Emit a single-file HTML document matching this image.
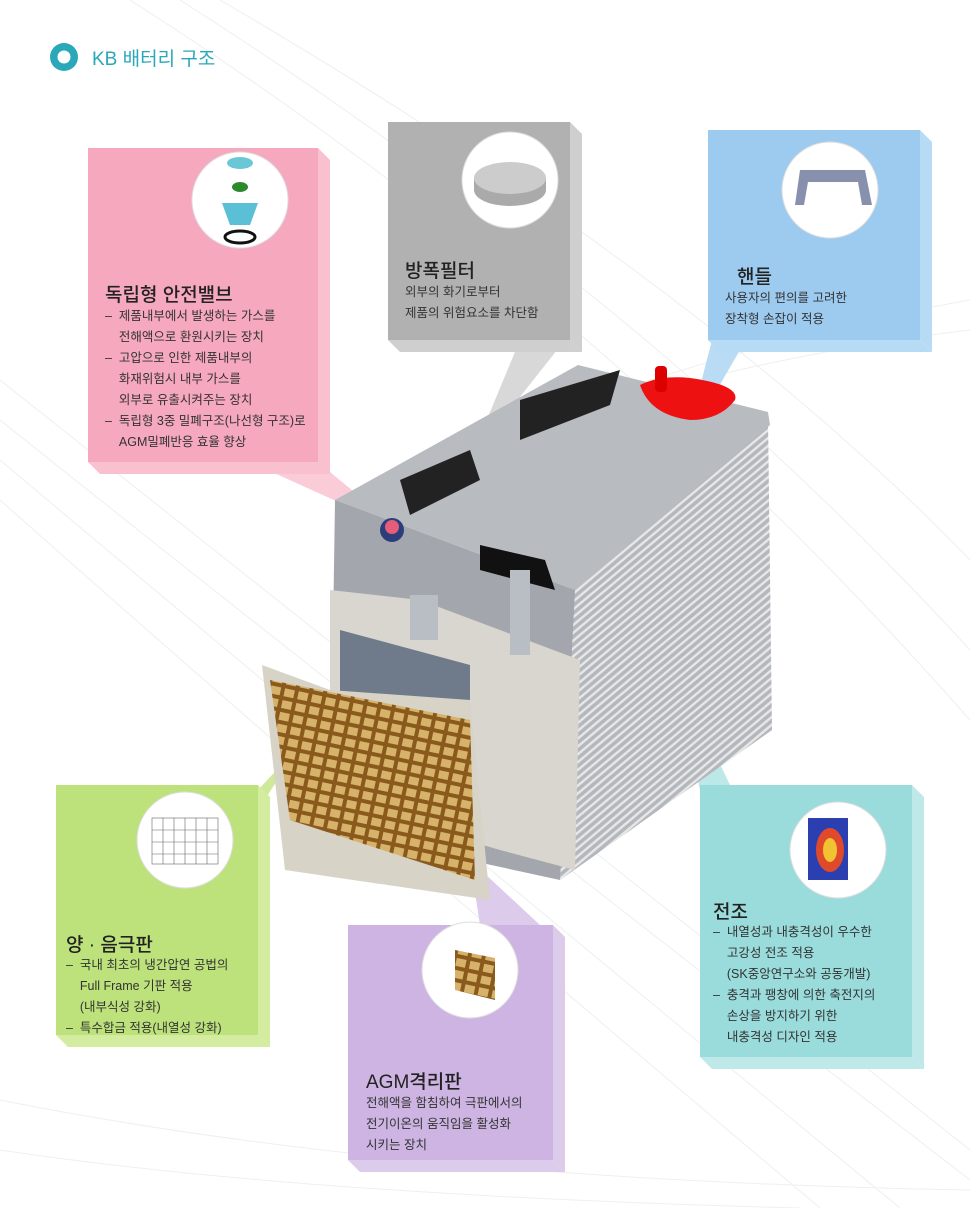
<!DOCTYPE html>
<html><head><meta charset="utf-8">
<style>
body{margin:0;width:970px;height:1208px;background:#fff;overflow:hidden;position:relative;font-family:"Liberation Sans","Noto Sans CJK KR",sans-serif;color:#333}
.t{position:absolute;font-size:12.5px;line-height:21px;color:#333}
.h{position:absolute;font-size:19px;color:#222;font-weight:500}
</style></head><body>
<svg width="970" height="1208" style="position:absolute;left:0;top:0">
<defs>
<pattern id="rib" width="6" height="6" patternUnits="userSpaceOnUse" patternTransform="rotate(-40)">
<rect width="6" height="6" fill="#b4b7bb"/><rect width="6" height="2.5" fill="#e4e6e8"/></pattern>
<pattern id="grid" width="14" height="12" patternUnits="userSpaceOnUse" patternTransform="rotate(12)">
<rect width="14" height="12" fill="#8a5a1c"/><rect x="2" y="2" width="10" height="8" fill="#d6b26a"/></pattern>
</defs>
<g stroke="#efefef" stroke-width="1" fill="none">
<path d="M0 380 Q400 700 970 1150"/><path d="M0 420 Q400 740 970 1180"/><path d="M0 460 Q380 780 900 1208"/>
<path d="M130 0 Q600 300 970 720"/><path d="M180 0 Q650 300 970 650"/><path d="M620 390 Q800 330 970 300"/><path d="M620 400 Q800 350 970 330"/>
<path d="M0 1100 Q400 1180 970 1190"/><path d="M0 1150 Q300 1195 800 1208"/>
<path d="M220 0 Q700 280 970 560"/><path d="M0 500 Q360 820 820 1208"/>
</g>
<circle cx="64" cy="57" r="14" fill="#2aa7b9"/><circle cx="64" cy="57" r="6.5" fill="#fff"/>
<polygon points="250,462 318,462 400,530" fill="#f9c6d4" opacity=".9"/>
<polygon points="520,340 565,340 470,460" fill="#d8d8d8"/>
<polygon points="712,340 740,350 685,445" fill="#b9dbf4"/>
<polygon points="258,790 258,810 300,745" fill="#cfe99a"/>
<polygon points="480,925 540,925 470,860" fill="#dccbeb"/>
<polygon points="700,790 730,785 670,660" fill="#bde8e8"/>
<polygon points="570,585 768,418 772,730 560,880" fill="url(#rib)"/>
<polygon points="335,500 578,365 768,412 770,425 575,590" fill="#b8bbbf"/>
<polygon points="520,400 620,370 610,405 520,440" fill="#222"/>
<polygon points="400,480 470,450 480,480 410,515" fill="#222"/>
<path d="M640 385 Q660 375 690 378 Q740 385 735 400 Q720 420 690 420 Q650 415 640 385Z" fill="#e11"/>
<rect x="655" y="366" width="12" height="26" rx="4" fill="#d00"/>
<polygon points="335,500 575,590 560,880 330,830" fill="#a3a7ad"/>
<polygon points="480,545 545,560 555,590 480,570" fill="#111"/>
<polygon points="330,590 420,600 580,660 575,870 500,850 330,800" fill="#d9d6cf"/>
<polygon points="340,630 470,665 470,860 340,830" fill="#6f7a8a"/>
<rect x="410" y="595" width="28" height="45" fill="#b9bec4"/>
<rect x="510" y="570" width="20" height="85" fill="#b9bec4"/>
<circle cx="392" cy="530" r="12" fill="#2b3e7a"/><circle cx="392" cy="527" r="7" fill="#e65d79"/>
<polygon points="262,665 330,690 470,700 490,900 285,870" fill="#d7d3c7"/>
<polygon points="270,680 470,720 475,880 290,820" fill="url(#grid)"/>
<polygon points="318,148 330,160 330,474 318,462" fill="#f9c0d0"/>
<polygon points="88,462 318,462 330,474 100,474" fill="#f9c0d0"/>
<rect x="88" y="148" width="230" height="314" fill="#f6a8be"/>
<circle cx="240" cy="200" r="48" fill="#fff" stroke="#e0e0e0"/>
<ellipse cx="240" cy="163" rx="13" ry="6" fill="#6ac7d8"/><ellipse cx="240" cy="187" rx="8" ry="5" fill="#2b8a2b"/>
<path d="M222 203 L258 203 L250 225 L230 225Z" fill="#5bbfd6"/><ellipse cx="240" cy="237" rx="15" ry="6" fill="none" stroke="#111" stroke-width="3"/>
<polygon points="570,122 582,134 582,352 570,340" fill="#cfcfcf"/>
<polygon points="388,340 570,340 582,352 400,352" fill="#cfcfcf"/>
<rect x="388" y="122" width="182" height="218" fill="#b1b1b1"/>
<circle cx="510" cy="180" r="48" fill="#fff" stroke="#ddd"/>
<path d="M474 178 v12 a36 16 0 0 0 72 0 v-12" fill="#aaa"/><ellipse cx="510" cy="178" rx="36" ry="16" fill="#ccc"/>
<polygon points="920,130 932,142 932,352 920,340" fill="#b8dbf5"/>
<polygon points="708,340 920,340 932,352 720,352" fill="#b8dbf5"/>
<rect x="708" y="130" width="212" height="210" fill="#9dcbf0"/>
<circle cx="830" cy="190" r="48" fill="#fff" stroke="#ddd"/>
<path d="M795 205 L800 170 L865 170 L872 205 L862 205 L858 182 L808 182 L804 205Z" fill="#8791ad"/>
<polygon points="258,785 270,797 270,1047 258,1035" fill="#d3ec9f"/>
<polygon points="56,1035 258,1035 270,1047 68,1047" fill="#d3ec9f"/>
<rect x="56" y="785" width="202" height="250" fill="#bde27b"/>
<circle cx="185" cy="840" r="48" fill="#fff" stroke="#ddd"/>
<g stroke="#666" stroke-width=".6" fill="none"><rect x="152" y="818" width="66" height="46"/><path d="M152 830h66M152 842h66M152 854h66M163 818v46M174 818v46M185 818v46M196 818v46M207 818v46"/></g>
<polygon points="553,925 565,937 565,1172 553,1160" fill="#dccbeb"/>
<polygon points="348,1160 553,1160 565,1172 360,1172" fill="#dccbeb"/>
<rect x="348" y="925" width="205" height="235" fill="#cdb4e2"/>
<circle cx="470" cy="970" r="48" fill="#fff" stroke="#ddd"/>
<polygon points="455,950 495,958 495,1000 455,990" fill="url(#grid)"/>
<polygon points="912,785 924,797 924,1069 912,1057" fill="#bfe9e9"/>
<polygon points="700,1057 912,1057 924,1069 712,1069" fill="#bfe9e9"/>
<rect x="700" y="785" width="212" height="272" fill="#9adcdc"/>
<circle cx="838" cy="850" r="48" fill="#fff" stroke="#ddd"/>
<rect x="808" y="818" width="40" height="62" fill="#2b3fb0"/><ellipse cx="830" cy="850" rx="14" ry="22" fill="#e04a2a"/><ellipse cx="830" cy="850" rx="7" ry="12" fill="#f1c232"/>
</svg>
<div style="position:absolute;left:92px;top:44px;font-size:19px;color:#2aa7b9">KB 배터리 구조</div>

<div class="h" style="left:105px;top:280px">독립형 안전밸브</div>
<div class="t" style="left:105px;top:306px">–&nbsp; 제품내부에서 발생하는 가스를<br>&nbsp;&nbsp;&nbsp;&nbsp;전해액으로 환원시키는 장치<br>–&nbsp; 고압으로 인한 제품내부의<br>&nbsp;&nbsp;&nbsp;&nbsp;화재위험시 내부 가스를<br>&nbsp;&nbsp;&nbsp;&nbsp;외부로 유출시켜주는 장치<br>–&nbsp; 독립형 3중 밀폐구조(나선형 구조)로<br>&nbsp;&nbsp;&nbsp;&nbsp;AGM밀폐반응 효율 향상</div>

<div class="h" style="left:405px;top:256px">방폭필터</div>
<div class="t" style="left:405px;top:282px">외부의 화기로부터<br>제품의 위험요소를 차단함</div>

<div class="h" style="left:737px;top:262px">핸들</div>
<div class="t" style="left:725px;top:288px">사용자의 편의를 고려한<br>장착형 손잡이 적용</div>

<div class="h" style="left:66px;top:930px">양 · 음극판</div>
<div class="t" style="left:66px;top:955px">–&nbsp; 국내 최초의 냉간압연 공법의<br>&nbsp;&nbsp;&nbsp;&nbsp;Full Frame 기판 적용<br>&nbsp;&nbsp;&nbsp;&nbsp;(내부식성 강화)<br>–&nbsp; 특수합금 적용(내열성 강화)</div>

<div class="h" style="left:366px;top:1067px">AGM격리판</div>
<div class="t" style="left:366px;top:1093px">전해액을 함침하여 극판에서의<br>전기이온의 움직임을 활성화<br>시키는 장치</div>

<div class="h" style="left:713px;top:897px">전조</div>
<div class="t" style="left:713px;top:922px">–&nbsp; 내열성과 내충격성이 우수한<br>&nbsp;&nbsp;&nbsp;&nbsp;고강성 전조 적용<br>&nbsp;&nbsp;&nbsp;&nbsp;(SK중앙연구소와 공동개발)<br>–&nbsp; 충격과 팽창에 의한 축전지의<br>&nbsp;&nbsp;&nbsp;&nbsp;손상을 방지하기 위한<br>&nbsp;&nbsp;&nbsp;&nbsp;내충격성 디자인 적용</div>
</body></html>
